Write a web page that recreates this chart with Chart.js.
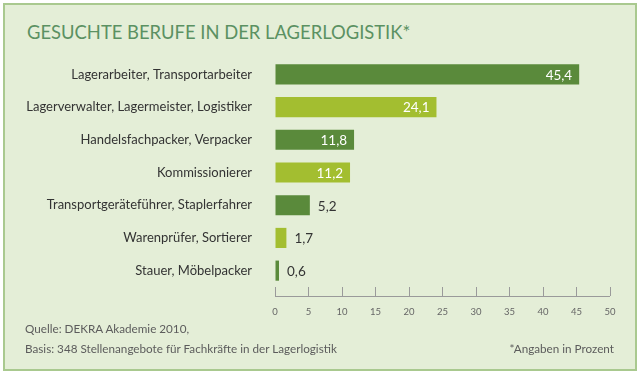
<!DOCTYPE html>
<html>
<head>
<meta charset="utf-8">
<script src="https://cdn.jsdelivr.net/npm/chart.js@4"></script>
<style>
  html, body { margin:0; padding:0; background:#fff; }
  .frame { position:relative; width:640px; height:376px; overflow:hidden; }
  .box { position:absolute; left:3px; top:3px; width:630px; height:364px; background:#e4eed7; border:2px solid #a9c98f; }
  canvas { position:absolute; left:0; top:0; }
  .title { position:absolute; left:27px; top:21px; font:18.4px Lato, sans-serif; color:#5b9162; white-space:nowrap; }
  .foot { position:absolute; font:11.7px Lato, sans-serif; color:#5c5c5c; white-space:nowrap; }
</style>
</head>
<body>
<div class="frame">
  <div class="box"></div>
  <div class="title">GESUCHTE BERUFE IN DER LAGERLOGISTIK*</div>
  <canvas id="c" width="640" height="376"></canvas>
  <div class="foot" style="left:25px;top:321px">Quelle: DEKRA Akademie 2010,</div>
  <div class="foot" style="left:25px;top:341px">Basis: 348 Stellenangebote für Fachkräfte in der Lagerlogistik</div>
  <div class="foot" style="right:26px;top:341px">*Angaben in Prozent</div>
</div>
<script>
// data
const categories = [
  'Lagerarbeiter, Transportarbeiter',
  'Lagerverwalter, Lagermeister, Logistiker',
  'Handelsfachpacker, Verpacker',
  'Kommissionierer',
  'Transportgeräteführer, Staplerfahrer',
  'Warenprüfer, Sortierer',
  'Stauer, Möbelpacker'
];
const values = [45.4, 24.1, 11.8, 11.2, 5.2, 1.7, 0.6];
const xTicks = [0, 5, 10, 15, 20, 25, 30, 35, 40, 45, 50];

const DARK = '#5a8a3b', LIGHT = '#a3be30';
const fmt = v => v.toFixed(1).replace('.', ',');

// axis line under the ticks + value labels
const extras = {
  id: 'extras',
  afterDraw(chart) {
    const ctx = chart.ctx, x = chart.scales.x;
    const ay = chart.chartArea.bottom + 9;
    ctx.save();
    ctx.strokeStyle = '#9a9a9a';
    ctx.lineWidth = 1;
    ctx.beginPath();
    ctx.moveTo(x.getPixelForValue(xTicks[0]), ay + 0.5);
    ctx.lineTo(x.getPixelForValue(xTicks[xTicks.length - 1]), ay + 0.5);
    ctx.stroke();

    ctx.font = '13.5px Lato, sans-serif';
    ctx.textBaseline = 'middle';
    const meta = chart.getDatasetMeta(0);
    meta.data.forEach((bar, i) => {
      const v = values[i];
      if (v > 10) {
        ctx.fillStyle = '#ffffff';
        ctx.textAlign = 'right';
        ctx.fillText(fmt(v), bar.x - 7, bar.y + 1);
      } else {
        ctx.fillStyle = '#333333';
        ctx.textAlign = 'left';
        ctx.fillText(fmt(v), bar.x + 8, bar.y + 1);
      }
    });
    ctx.restore();
  }
};

new Chart(document.getElementById('c'), {
  type: 'bar',
  data: {
    labels: categories,
    datasets: [{
      data: values,
      backgroundColor: values.map((v, i) => i % 2 ? LIGHT : DARK),
      borderWidth: 0,
      barPercentage: 0.615,
      categoryPercentage: 1
    }]
  },
  options: {
    indexAxis: 'y',
    responsive: false,
    animation: false,
    events: [],
    layout: { padding: { left: 0, right: 30, top: 58, bottom: 0 } },
    plugins: { legend: { display: false }, tooltip: { enabled: false } },
    scales: {
      x: {
        min: 0, max: 50,
        afterBuildTicks: s => { s.ticks = xTicks.map(v => ({ value: v })); },
        afterFit: s => { s.height = 376 - 287; },
        grid: { display: true, drawOnChartArea: false, drawTicks: true, tickLength: 9, color: '#9a9a9a', lineWidth: 1 },
        border: { display: false },
        ticks: { color: '#666', font: { family: 'Lato, sans-serif', size: 9.5 }, padding: 10, maxRotation: 0 }
      },
      y: {
        afterFit: s => { s.width = 275; },
        grid: { display: false, drawTicks: false },
        border: { display: false },
        ticks: { color: '#333', font: { family: 'Lato, sans-serif', size: 13 }, padding: 23 }
      }
    }
  },
  plugins: [extras]
});
</script>
</body>
</html>
